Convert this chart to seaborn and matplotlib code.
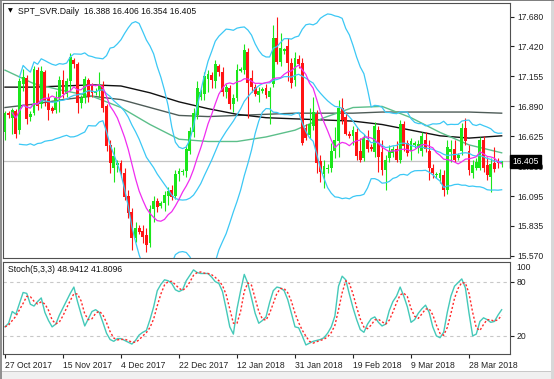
import numpy as np
import pandas as pd
import seaborn as sns
import matplotlib.pyplot as plt
from matplotlib.patches import Rectangle
from matplotlib.transforms import blended_transform_factory

# daily silver candles, bar 0 = 27 Oct 2017 (feed has short Sunday bars)
opens = [
    16.66, 16.83, 16.79, 16.85, 16.68, 17.09, 17.14, 16.80, 16.83, 17.21,
    16.91, 17.19, 16.96, 16.88, 16.86, 16.96, 17.12, 17.00, 17.11, 17.30,
    17.26, 16.92, 16.96, 17.12, 17.07, 17.01, 17.03, 17.08, 16.89, 16.55,
    16.35, 16.37, 16.39, 16.30, 16.10, 15.96, 15.73, 15.82, 15.79, 15.75,
    15.68, 15.98, 16.05, 16.01, 16.04, 16.10, 16.15, 16.10, 16.29, 16.31,
    16.32, 16.50, 16.66, 16.81, 16.97, 17.00, 17.13, 17.17, 17.11, 17.25,
    17.19, 17.02, 17.05, 16.91, 16.96, 17.20, 17.21, 17.37, 17.14, 17.06,
    16.99, 17.03, 17.05, 16.97, 17.09, 17.49, 17.28, 17.38, 17.42, 17.27,
    17.12, 17.31, 17.27, 16.70, 16.64, 16.72, 16.82, 16.41, 16.29, 16.34,
    16.35, 16.50, 16.58, 16.88, 16.80, 16.65, 16.63, 16.66, 16.50, 16.43,
    16.59, 16.53, 16.49, 16.68, 16.49, 16.33, 16.43, 16.48, 16.51, 16.42,
    16.73, 16.57, 16.50, 16.55, 16.52, 16.50, 16.59, 16.50, 16.35, 16.28,
    16.26, 16.28, 16.15, 16.49, 16.51, 16.43, 16.50, 16.70, 16.50, 16.30,
    16.35, 16.35, 16.59, 16.37, 16.27, 16.39, 16.40, 16.388]
highs = [
    16.85, 16.85, 16.88, 16.87, 17.14, 17.22, 17.17, 16.85, 17.25, 17.24,
    17.25, 17.21, 17.01, 16.89, 17.03, 17.16, 17.21, 17.14, 17.36, 17.32,
    17.28, 16.99, 17.16, 17.14, 17.10, 17.05, 17.19, 17.11, 16.91, 16.59,
    16.53, 16.42, 16.42, 16.35, 16.15, 15.99, 15.87, 15.84, 15.84, 15.82,
    16.02, 16.10, 16.08, 16.05, 16.14, 16.18, 16.20, 16.33, 16.35, 16.34,
    16.55, 16.71, 16.88, 17.11, 17.04, 17.19, 17.21, 17.19, 17.30, 17.26,
    17.24, 17.09, 17.08, 17.00, 17.26, 17.24, 17.44, 17.41, 17.21, 17.09,
    17.06, 17.06, 17.09, 17.06, 17.61, 17.68, 17.54, 17.41, 17.49, 17.32,
    17.37, 17.34, 17.32, 16.73, 16.88, 16.97, 16.86, 16.46, 16.42, 16.38,
    16.57, 16.71, 16.95, 16.96, 16.84, 16.67, 16.72, 16.70, 16.61, 16.65,
    16.68, 16.56, 16.75, 16.72, 16.59, 16.46, 16.55, 16.54, 16.58, 16.77,
    16.76, 16.59, 16.61, 16.58, 16.59, 16.66, 16.66, 16.59, 16.38, 16.31,
    16.34, 16.33, 16.59, 16.59, 16.59, 16.48, 16.74, 16.79, 16.55, 16.42,
    16.43, 16.62, 16.63, 16.44, 16.43, 16.53, 16.43, 16.406]
lows = [
    16.59, 16.79, 16.65, 16.61, 16.65, 17.03, 16.73, 16.76, 16.81, 16.86,
    16.88, 16.89, 16.77, 16.83, 16.83, 16.84, 16.96, 16.97, 17.03, 17.23,
    16.83, 16.88, 16.92, 16.93, 16.97, 16.99, 16.97, 16.84, 16.50, 16.30,
    16.22, 16.31, 16.27, 16.06, 15.90, 15.62, 15.69, 15.76, 15.68, 15.60,
    15.65, 15.87, 15.96, 15.99, 15.97, 16.02, 16.06, 16.07, 16.23, 16.28,
    16.27, 16.47, 16.62, 16.78, 16.95, 16.95, 17.02, 17.05, 17.05, 17.16,
    16.98, 16.96, 16.87, 16.84, 16.94, 17.19, 17.18, 16.79, 17.02, 16.98,
    16.93, 17.01, 16.96, 16.73, 17.06, 17.26, 17.25, 17.35, 17.11, 17.05,
    17.07, 17.23, 16.55, 16.59, 16.61, 16.68, 16.30, 16.22, 16.17, 16.30,
    16.31, 16.43, 16.44, 16.73, 16.64, 16.61, 16.55, 16.42, 16.40, 16.41,
    16.49, 16.50, 16.44, 16.31, 16.28, 16.15, 16.40, 16.44, 16.40, 16.39,
    16.50, 16.45, 16.42, 16.52, 16.48, 16.45, 16.49, 16.24, 16.26, 16.26,
    16.21, 16.10, 16.12, 16.40, 16.40, 16.42, 16.46, 16.55, 16.28, 16.26,
    16.33, 16.33, 16.31, 16.24, 16.13, 16.31, 16.35, 16.354]
closes = [
    16.83, 16.81, 16.86, 16.65, 17.11, 17.15, 16.78, 16.82, 17.22, 16.89,
    17.20, 16.94, 16.86, 16.85, 16.96, 17.12, 17.00, 17.11, 17.33, 17.26,
    16.92, 16.96, 17.13, 16.97, 17.01, 17.03, 17.09, 16.88, 16.54, 16.39,
    16.45, 16.39, 16.29, 16.09, 15.95, 15.73, 15.82, 15.78, 15.74, 15.67,
    15.98, 16.05, 16.00, 16.04, 16.11, 16.14, 16.09, 16.29, 16.32, 16.32,
    16.51, 16.67, 16.83, 17.05, 17.02, 17.16, 17.18, 17.12, 17.26, 17.19,
    17.02, 17.06, 16.91, 16.96, 17.21, 17.22, 17.39, 17.10, 17.06, 17.00,
    17.03, 17.04, 16.99, 17.03, 17.49, 17.28, 17.41, 17.40, 17.27, 17.10,
    17.32, 17.26, 16.57, 16.61, 16.73, 16.84, 16.39, 16.31, 16.36, 16.35,
    16.50, 16.59, 16.88, 16.77, 16.65, 16.63, 16.68, 16.45, 16.42, 16.61,
    16.51, 16.51, 16.72, 16.44, 16.33, 16.42, 16.50, 16.51, 16.42, 16.73,
    16.54, 16.48, 16.58, 16.57, 16.56, 16.63, 16.51, 16.35, 16.30, 16.29,
    16.30, 16.15, 16.53, 16.51, 16.42, 16.46, 16.70, 16.58, 16.33, 16.37,
    16.40, 16.59, 16.35, 16.28, 16.38, 16.34, 16.39, 16.405]

# stochastic %K main line, one value per bar
stoch_k = [
    30, 34, 47, 44, 56, 68, 67, 55, 53, 58,
    62, 46, 37, 30, 33, 43, 51, 59, 67, 74,
    58, 44, 31, 39, 47, 49, 46, 35, 23, 16,
    14, 17, 17, 15, 13, 11, 15, 21, 24, 26,
    38, 52, 70, 77, 82, 81, 78, 71, 69, 71,
    81, 87, 93, 90, 89, 89, 89, 85, 80, 78,
    69, 50, 30, 22, 50, 70, 88, 78, 62, 45,
    34, 37, 41, 57, 70, 74, 73, 70, 60, 45,
    30, 29, 20, 10, 12, 14, 15, 16, 18, 23,
    30, 42, 75, 86, 82, 66, 51, 38, 27, 24,
    33, 39, 41, 35, 31, 33, 48, 58, 64, 74,
    64, 52, 35, 38, 45, 50, 54, 46, 30, 20,
    18, 24, 46, 64, 75, 79, 83, 73, 45, 20,
    22, 36, 40, 38, 35, 36, 43, 48.94]

# slow averages every 8 bars
ma_bars = [0, 8, 16, 24, 32, 40, 48, 56, 64, 72, 80, 88, 96, 104, 112, 120, 128, 137]
ma_green = [17.21, 17.09, 17.03, 16.98, 16.88, 16.73, 16.60, 16.58, 16.58,
            16.62, 16.68, 16.79, 16.88, 16.89, 16.79, 16.66, 16.55, 16.48]
ma_black = [17.06, 17.06, 17.07, 17.08, 17.07, 17.01, 16.93, 16.87, 16.82,
            16.79, 16.78, 16.77, 16.76, 16.73, 16.68, 16.63, 16.61, 16.63]
ma_gray = [16.88, 16.91, 16.95, 16.98, 16.95, 16.88, 16.81, 16.80, 16.81,
           16.82, 16.83, 16.83, 16.83, 16.84, 16.84, 16.84, 16.84, 16.83]

date_ticks = [0, 16, 32, 48, 64, 80, 96, 112, 128]
date_labels = ['27 Oct 2017', '15 Nov 2017', '4 Dec 2017', '22 Dec 2017', '12 Jan 2018',
               '31 Jan 2018', '19 Feb 2018', '9 Mar 2018', '28 Mar 2018']
price_ticks = [17.680, 17.420, 17.155, 16.890, 16.625, 16.360, 16.095, 15.835, 15.570]

df = pd.DataFrame({'open': opens, 'high': highs, 'low': lows, 'close': closes, 'k': stoch_k})
df['bar'] = np.arange(len(df))
df['ma10'] = df['close'].rolling(10, min_periods=3).mean()
mid = df['close'].rolling(20, min_periods=5).mean()
sd = df['close'].rolling(20, min_periods=5).std(ddof=0)
df['bb_mid'] = mid
df['bb_up'] = mid + 2 * sd
df['bb_lo'] = mid - 2 * sd
df['d'] = df['k'].rolling(3, min_periods=1).mean()
slow = pd.DataFrame({'bar': ma_bars, 'green': ma_green, 'black': ma_black, 'gray': ma_gray})

plt.rcParams['font.family'] = ['Liberation Sans', 'DejaVu Sans']
plt.rcParams['font.size'] = 6.2

W, H = 554, 379
fig = plt.figure(figsize=(W / 100, H / 100), dpi=100)


def px_box(l, t, r, b):
    return [l / W, 1 - b / H, (r - l) / W, (b - t) / H]


ax = fig.add_axes(px_box(3, 3, 510, 258))
ax2 = fig.add_axes(px_box(3, 262, 510, 354))

BLUE = '#3cc8f5'

# price panel
ax.axhline(closes[-1], color='#c4c4c4', lw=0.9, zorder=1)
up = df['close'] >= df['open']
colors = np.where(up, '#1be61b', '#ff1414')
ax.vlines(df['bar'], df['low'], df['high'], colors=colors, lw=0.8, zorder=3)
body = (df['close'] - df['open']).abs().clip(lower=0.006)
ax.bar(df['bar'], body, bottom=df[['open', 'close']].min(axis=1), width=0.8,
       color=colors, lw=0, zorder=4)

kw = dict(ax=ax, estimator=None, sort=False, legend=False)
sns.lineplot(data=slow, x='bar', y='gray', color='#4e5c58', lw=1.0, zorder=2, **kw)
sns.lineplot(data=slow, x='bar', y='black', color='#111111', lw=1.0, zorder=2, **kw)
sns.lineplot(data=slow, x='bar', y='green', color='#5cbf8a', lw=1.0, zorder=2, **kw)
sns.lineplot(data=df, x='bar', y='bb_up', color=BLUE, lw=0.9, zorder=5, **kw)
sns.lineplot(data=df, x='bar', y='bb_mid', color=BLUE, lw=0.9, zorder=5, **kw)
sns.lineplot(data=df, x='bar', y='bb_lo', color=BLUE, lw=0.9, zorder=5, **kw)
sns.lineplot(data=df, x='bar', y='ma10', color='#f02cf0', lw=0.9, zorder=5, **kw)

ax.set_xlim(-0.55, 139.3)
ax.set_ylim(15.551, 17.803)
ax.set_xlabel('')
ax.set_ylabel('')
ax.set_xticks([])
ax.yaxis.tick_right()
ax.set_yticks(price_ticks)
ax.set_yticklabels([f'{p:.3f}' for p in price_ticks])
ax.tick_params(axis='y', direction='out', length=3, width=0.8, pad=2, colors='#222222')

trans = blended_transform_factory(ax.transAxes, ax.transData)
ax.text(1.004, closes[-1], f'{closes[-1]:.3f}', transform=trans, color='white',
        va='center', ha='left', zorder=10,
        bbox=dict(boxstyle='square,pad=0.25', fc='black', ec='black'))

# stochastic panel
ax2.axhline(80, color='#c8c8c8', lw=0.8, ls=(0, (3, 3)))
ax2.axhline(20, color='#c8c8c8', lw=0.8, ls=(0, (3, 3)))
sns.lineplot(data=df, x='bar', y='k', color='#45c9b9', lw=1.0, ax=ax2,
             estimator=None, sort=False, legend=False)
sns.lineplot(data=df, x='bar', y='d', color='#ff2a2a', lw=1.0, ax=ax2,
             estimator=None, sort=False, legend=False, linestyle=(0, (1.5, 1.5)))
ax2.set_xlim(-0.55, 139.3)
ax2.set_ylim(0, 101.7)
ax2.set_xlabel('')
ax2.set_ylabel('')
ax2.yaxis.tick_right()
ax2.set_yticks([80, 20])
ax2.set_yticklabels(['80', '20'])
ax2.tick_params(axis='y', direction='out', length=3, width=0.8, pad=2, colors='#222222')
ax2.text(1.012, 96, '100', transform=blended_transform_factory(ax2.transAxes, ax2.transData),
         va='center', ha='left', color='#222222')
ax2.set_xticks(date_ticks)
ax2.set_xticklabels(date_labels, ha='left')
ax2.tick_params(axis='x', direction='out', length=3, width=0.8, pad=2, colors='#222222')

for a in (ax, ax2):
    for s in a.spines.values():
        s.set_color('#505050')
        s.set_linewidth(0.8)

# captions
fig.text(10 / W, 1 - 11 / H, '\u25bc', fontsize=4.5, family='DejaVu Sans',
         va='center', ha='center', color='black')
fig.text(18 / W, 1 - 11 / H,
         f'SPT_SVR.Daily  {opens[-1]:.3f} {highs[-1]:.3f} {lows[-1]:.3f} {closes[-1]:.3f}',
         va='center', ha='left', color='#111111')
fig.text(8 / W, 1 - 270 / H, 'Stoch(5,3,3) 48.9412 41.8096', va='center', ha='left',
         color='#111111')

# window chrome
fig.add_artist(Rectangle((0, 0), 1, 7 / H, transform=fig.transFigure,
                         fc='#f0f0f0', ec='none'))
fig.add_artist(Rectangle((0, 7 / H), 1, 1 / H, transform=fig.transFigure,
                         fc='#c8c8c8', ec='none'))
fig.add_artist(Rectangle((0, 0), 2 / W, 1, transform=fig.transFigure,
                         fc='#909090', ec='none'))
fig.add_artist(Rectangle((551 / W, 0), 3 / W, 1, transform=fig.transFigure,
                         fc='#d8d8d8', ec='none'))
fig.add_artist(Rectangle((0, 1 - 1 / H), 1, 1 / H, transform=fig.transFigure,
                         fc='#808080', ec='none'))

fig.savefig('out.png', dpi=100)
